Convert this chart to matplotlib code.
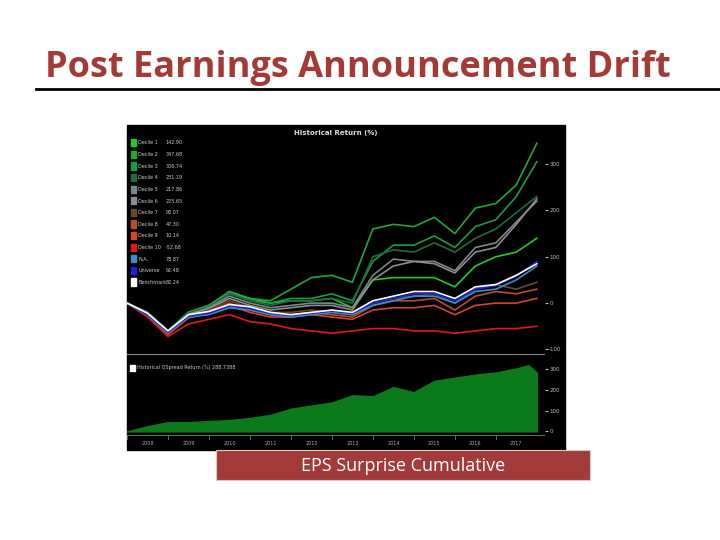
import numpy as np
import matplotlib
matplotlib.use("Agg")
import matplotlib.pyplot as plt
from matplotlib.patches import Rectangle

# ── Data (half-year steps) ─────────────────────────────────────────
t = [2008.0 + 0.5 * k for k in range(21)]

decile1 = [0, -20, -60, -20, -5, 25, 10, 0, 5, 5, 10, -10, 50, 55, 55, 55, 35, 80, 100, 110, 140]
decile2 = [0, -20, -60, -20, -5, 20, 10, 5, 30, 55, 60, 45, 160, 170, 165, 185, 150, 205, 215, 255, 345]
decile3 = [0, -20, -60, -20, -5, 25, 5, 0, 10, 10, 20, 5, 90, 125, 125, 145, 120, 165, 180, 230, 305]
decile4 = [0, -20, -60, -22, -8, 20, 5, -5, 5, 5, 10, 0, 100, 115, 110, 130, 110, 140, 160, 195, 230]
decile5 = [0, -22, -62, -25, -10, 15, 0, -10, -5, 0, 0, -10, 60, 95, 90, 90, 70, 120, 130, 175, 220]
decile6 = [0, -22, -62, -25, -12, 10, -5, -15, -10, -5, -5, -15, 50, 80, 90, 85, 65, 110, 120, 170, 225]
decile7 = [0, -25, -65, -28, -15, 5, -10, -20, -20, -15, -20, -25, 0, 10, 15, 20, 0, 30, 40, 30, 45]
decile8 = [0, -25, -65, -30, -18, 0, -15, -25, -25, -20, -25, -30, -5, 5, 5, 10, -15, 15, 25, 20, 30]
decile9 = [0, -28, -68, -32, -22, -5, -20, -30, -30, -25, -30, -35, -15, -10, -10, -5, -25, -5, 0, 0, 10]
decile10 = [0, -30, -72, -45, -35, -25, -40, -45, -55, -60, -65, -60, -55, -55, -60, -60, -65, -60, -55, -55, -50]
na = [0, -25, -65, -30, -25, -10, -15, -25, -30, -25, -20, -25, -5, 5, 15, 15, 0, 25, 30, 50, 80]
universe = [0, -25, -63, -28, -22, -5, -12, -22, -27, -22, -17, -22, 0, 10, 20, 20, 5, 30, 38, 58, 90]
benchmark = [0, -22, -60, -25, -18, -3, -8, -20, -25, -20, -15, -20, 5, 15, 25, 25, 10, 35, 40, 60, 85]

labels = ["Decile 1", "Decile 2", "Decile 3", "Decile 4", "Decile 5", "Decile 6", "Decile 7",
          "Decile 8", "Decile 9", "Decile 10", "N.A.", "Universe", "Benchmark"]
legend_vals = ["142.90", "347.68", "306.74", "231.19", "217.86", "225.65", "93.07",
               "47.30", "10.14", "-52.68", "78.87", "92.48", "82.24"]
series = [decile1, decile2, decile3, decile4, decile5, decile6, decile7,
          decile8, decile9, decile10, na, universe, benchmark]
colors = ["#22cc22", "#1fa83a", "#1c9a44", "#1f6b3c", "#7a8a82", "#8c8c96", "#6b4a2a",
          "#b4502a", "#d4452a", "#e01818", "#3a8fc8", "#1a22d8", "#ffffff"]

qt = [2008.0 + 0.5 * k for k in range(20)] + [2017.8, 2018.0]
qspread = [0, 25, 45, 45, 50, 55, 65, 80, 110, 125, 140, 175, 170, 215, 190, 245, 260, 275, 285, 305, 320, 285]

years = list(range(2008, 2018))

# ── Figure ─────────────────────────────────────────────────────────
fig = plt.figure(figsize=(7.2, 5.4), dpi=100)
fig.patch.set_facecolor("white")

fig.text(358 / 720, 1 - 68 / 540, "Post Earnings Announcement Drift", ha="center", va="center",
         fontsize=26, fontweight="bold", color="#a33a35", family="Open Sans")
fig.add_artist(plt.Line2D([36 / 720, 1.0], [1 - 89 / 540, 1 - 89 / 540], color="black", lw=2))

fig.add_artist(Rectangle((127 / 720, 1 - 450 / 540), 438 / 720, 325 / 540,
                         transform=fig.transFigure, color="black", zorder=0))

ax = fig.add_axes([127 / 720, 1 - 355 / 540, 418 / 720, 228 / 540])
ax2 = fig.add_axes([127 / 720, 1 - 450 / 540, 418 / 720, 95 / 540])

for a in (ax, ax2):
    a.set_facecolor("black")
    for s in a.spines.values():
        s.set_visible(False)
    a.yaxis.tick_right()
    a.tick_params(axis="y", colors="#bbbbbb", labelsize=4, length=2, pad=1)
    a.tick_params(axis="x", length=0)
    a.set_xlim(2008.0, 2018.2)

for y, c in zip(series, colors):
    ax.plot(t, y, color=c, lw=1.2)
ax.set_ylim(-112, 380)
ax.set_yticks([-100, 0, 100, 200, 300])
ax.set_yticklabels(["-100", "0", "100", "200", "300"])
ax.set_xticks([])
ax.axhline(-112, color="#888888", lw=1.5)
ax.set_title("Historical Return (%)", color="#dddddd", fontsize=5, fontweight="bold", y=0.93)

for i, (lab, v, c) in enumerate(zip(labels, legend_vals, colors)):
    yy = 0.93 - i * 0.0215 * (540 / 228)
    ax.add_patch(Rectangle((0.01, yy - 0.015), 0.012, 0.032, transform=ax.transAxes, color=c))
    ax.text(0.027, yy, lab, transform=ax.transAxes, fontsize=3.5, color="#cccccc", va="center")
    ax.text(0.092, yy, v, transform=ax.transAxes, fontsize=3.5, color="#cccccc", va="center")

ax2.fill_between(qt, 0, qspread, color="#0a7a1a")
ax2.set_ylim(-90, 370)
ax2.set_yticks([0, 100, 200, 300])
ax2.set_xticks([])
for yr in years:
    ax2.text(yr + 0.5, -60, str(yr), color="#aaaaaa", fontsize=3.5, ha="center", va="center")
    ax2.plot([yr, yr], [-15, -35], color="#777777", lw=0.6)
ax2.axhline(-15, color="#777777", lw=0.6)
ax2.add_patch(Rectangle((0.008, 0.83), 0.012, 0.07, transform=ax2.transAxes, color="white"))
ax2.text(0.024, 0.865, "Historical QSpread Return (%) 288.7388", transform=ax2.transAxes,
         fontsize=3.5, color="#cccccc", va="center")

fig.add_artist(Rectangle((216 / 720, 1 - 480 / 540), 374 / 720, 30 / 540,
                         transform=fig.transFigure, facecolor="#a33a3a", edgecolor="#cccccc",
                         lw=0.8, zorder=5))
fig.text(403 / 720, 1 - 466 / 540, "EPS Surprise Cumulative", ha="center", va="center",
         fontsize=13, color="white", family="Open Sans", zorder=6)

fig.savefig("out.png", dpi=100)
